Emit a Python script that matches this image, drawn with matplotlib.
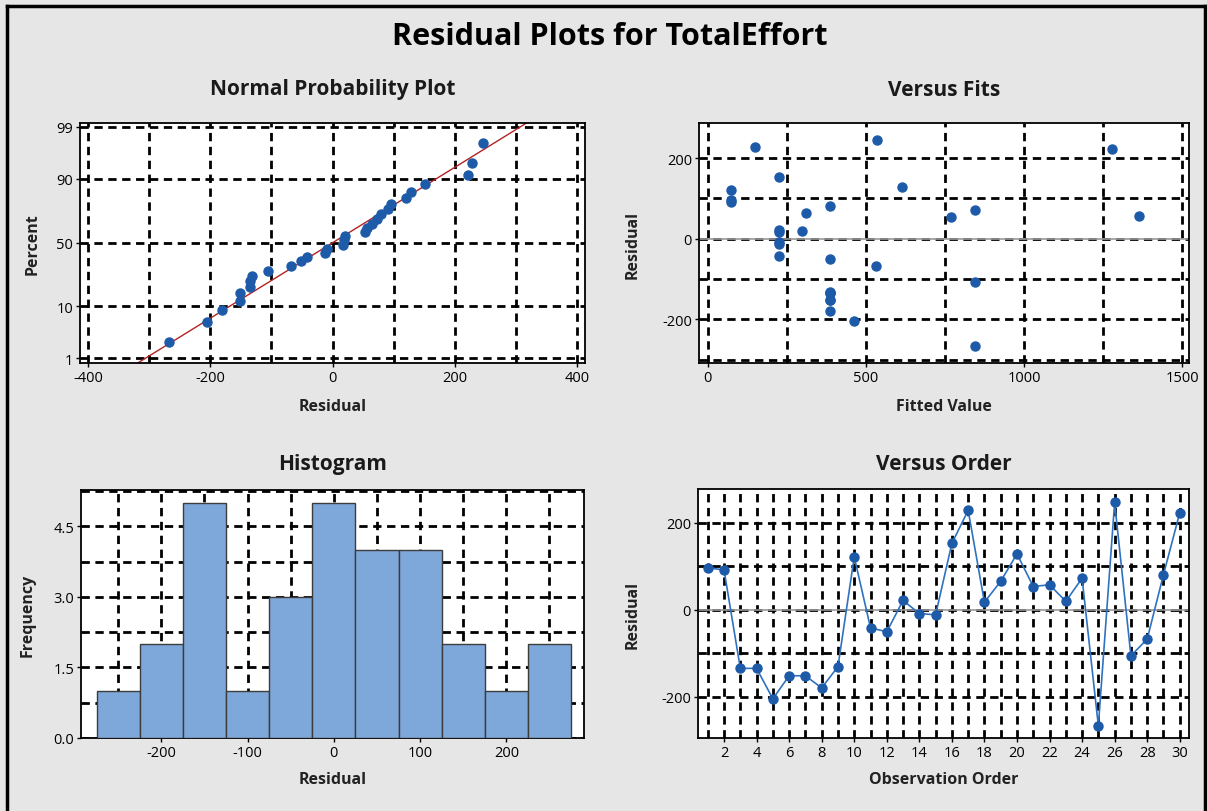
import numpy as np
import matplotlib
matplotlib.use('Agg')
import matplotlib.pyplot as plt
from matplotlib.ticker import MultipleLocator, FixedLocator, FormatStrFormatter
from statistics import NormalDist

plt.rcParams['font.family'] = ['Open Sans', 'DejaVu Sans']
plt.rcParams['axes.unicode_minus'] = False

# residuals in observation order
order = list(range(1, 31))
residuals = [96, 91, -135, -135, -205, -152, -152, -180, -131, 121,
             -42, -51, 21, -9, -12, 152, 228, 17, 65, 128,
             53, 57, 19, 72, -267, 246, -106, -68, 80, 222]
fitted = [73, 73, 386, 386, 462, 386, 386, 386, 386, 73,
          225, 386, 225, 225, 225, 225, 149, 225, 309, 615,
          768, 1364, 299, 845, 845, 535, 845, 533, 386, 1278]
hist_edges = [-275, -225, -175, -125, -75, -25, 25, 75, 125, 175, 225, 275]
pct_ticks = [1, 10, 50, 90, 99]

W, H = 1207, 812
BLUE = '#1d5aa8'
nd = NormalDist()

fig = plt.figure(figsize=(W / 100, H / 100), dpi=100)
fig.patch.set_facecolor('#e6e6e6')


def px_axes(left, top, right, bottom):
    ax = fig.add_axes([left / W, 1 - bottom / H, (right - left) / W, (bottom - top) / H])
    ax.set_facecolor('white')
    ax.set_axisbelow(True)
    for s in ax.spines.values():
        s.set_linewidth(1.3)
        s.set_color('black')
    ax.tick_params(which='major', length=3, width=1, pad=2, labelsize=10.5)
    ax.tick_params(which='minor', length=0)
    ax.grid(True, which='both', color='black', lw=2, linestyle=(0, (3, 2)))
    return ax


# border of the window
fig.add_artist(plt.Line2D([7 / W, 7 / W], [0, 1 - 7 / H], color='black', lw=2.5))
fig.add_artist(plt.Line2D([7 / W, 1], [1 - 7 / H, 1 - 7 / H], color='black', lw=2.5))
fig.add_artist(plt.Line2D([1205 / W, 1205 / W], [0, 1 - 7 / H], color='black', lw=2.5))

fig.text(610 / W, 1 - 37 / H, 'Residual Plots for TotalEffort', ha='center', va='center',
         fontsize=22, fontweight='bold')

# ---- Normal probability plot
ax1 = px_axes(80, 124, 585, 364)
r = np.sort(np.array(residuals, dtype=float))
n = len(r)
z = np.array([nd.inv_cdf((i - 0.3) / (n + 0.4)) for i in range(1, n + 1)])
mu, sd = r.mean(), r.std(ddof=0)
zz = np.array([-2.6, 2.6])
ax1.plot(mu + sd * zz, zz, color='#b22222', lw=1)
ax1.plot(r, z, 'o', color=BLUE, ms=6.5, zorder=3)
ax1.set_xlim(-413, 413)
ax1.set_ylim(-2.42, 2.40)
ax1.xaxis.set_major_locator(MultipleLocator(200))
ax1.xaxis.set_minor_locator(MultipleLocator(100))
ax1.yaxis.set_major_locator(FixedLocator([nd.inv_cdf(p / 100) for p in pct_ticks]))
ax1.set_yticklabels([str(p) for p in pct_ticks])

# ---- Versus fits
ax2 = px_axes(699, 124, 1189, 364)
ax2.axhline(0, color='#9a9a9a', lw=1.2, zorder=2)
ax2.plot(fitted, residuals, 'o', color=BLUE, ms=6.5, zorder=3)
ax2.set_xlim(-28, 1522)
ax2.set_ylim(-308, 287)
ax2.xaxis.set_major_locator(MultipleLocator(500))
ax2.xaxis.set_minor_locator(MultipleLocator(250))
ax2.yaxis.set_major_locator(MultipleLocator(200))
ax2.yaxis.set_minor_locator(MultipleLocator(100))

# ---- Histogram
ax3 = px_axes(81, 491, 584, 739)
ax3.hist(residuals, bins=hist_edges, color='#7ea8da', edgecolor='#3c3c3c', lw=1, zorder=3)
ax3.set_xlim(-293, 290)
ax3.set_ylim(0, 5.27)
ax3.xaxis.set_major_locator(MultipleLocator(100))
ax3.xaxis.set_minor_locator(MultipleLocator(50))
ax3.yaxis.set_major_locator(MultipleLocator(1.5))
ax3.yaxis.set_minor_locator(MultipleLocator(0.75))
ax3.yaxis.set_major_formatter(FormatStrFormatter('%.1f'))

# ---- Versus order
ax4 = px_axes(698, 490, 1189, 739)
ax4.axhline(0, color='#9a9a9a', lw=1.2, zorder=2)
ax4.plot(order, residuals, '-', color='#2f72c0', lw=1.2, zorder=3)
ax4.plot(order, residuals, 'o', color=BLUE, ms=6.5, zorder=4)
ax4.set_xlim(0.4, 30.57)
ax4.set_ylim(-295, 277)
ax4.xaxis.set_major_locator(MultipleLocator(2))
ax4.xaxis.set_minor_locator(MultipleLocator(1))
ax4.yaxis.set_major_locator(MultipleLocator(200))
ax4.yaxis.set_minor_locator(MultipleLocator(100))

# titles and axis labels
for x, y, t in [(333, 90, 'Normal Probability Plot'), (944, 90, 'Versus Fits'),
                (333, 465, 'Histogram'), (944, 465, 'Versus Order')]:
    fig.text(x / W, 1 - y / H, t, ha='center', va='center', fontsize=15, fontweight='bold',
             color='#1a1a1a')

for x, y, t in [(333, 407, 'Residual'), (944, 407, 'Fitted Value'),
                (333, 780, 'Residual'), (944, 780, 'Observation Order')]:
    fig.text(x / W, 1 - y / H, t, ha='center', va='center', fontsize=11.5, fontweight='bold',
             color='#222222')

for x, y, t in [(33, 244, 'Percent'), (633, 245, 'Residual'),
                (28, 615, 'Frequency'), (633, 615, 'Residual')]:
    fig.text(x / W, 1 - y / H, t, ha='center', va='center', fontsize=11.5,
             fontweight='bold', color='#222222', rotation=90)

fig.savefig('out.png', dpi=100, facecolor=fig.get_facecolor())
